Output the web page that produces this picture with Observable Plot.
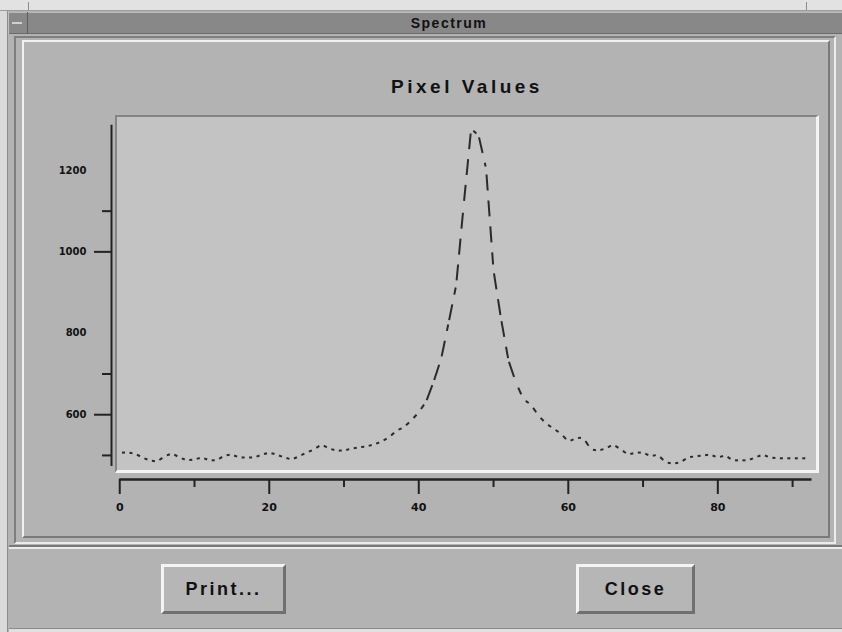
<!DOCTYPE html>
<html>
<head>
<meta charset="utf-8">
<script src="https://cdn.jsdelivr.net/npm/d3@7"></script>
<script src="https://cdn.jsdelivr.net/npm/@observablehq/plot@0.6"></script>
<style>
  html, body { margin: 0; padding: 0; background: #b3b3b3; }
  #win { position: relative; width: 842px; height: 632px; overflow: hidden; background: #b3b3b3;
         font-family: "Liberation Sans", "DejaVu Sans", sans-serif; }
  .abs { position: absolute; box-sizing: border-box; }
  .btn { position: absolute; box-sizing: border-box; background: #b6b6b6;
         border-top: 3px solid #f4f4f4; border-left: 3px solid #f4f4f4;
         border-bottom: 3px solid #707070; border-right: 3px solid #707070;
         display: flex; align-items: center; justify-content: center;
         font-size: 18px; font-weight: bold; letter-spacing: 2.5px; color: #111; }
  #chart { position: absolute; left: 0; top: 0; }
</style>
</head>
<body>
<div id="win">
  <!-- window decoration -->
  <div class="abs" style="left:0;top:0;width:842px;height:11px;background:#e2e2e2;border-bottom:1px solid #9c9c9c"></div>
  <div class="abs" style="left:28px;top:2px;width:1px;height:8px;background:#8c8c8c"></div>
  <div class="abs" style="left:806px;top:2px;width:1px;height:8px;background:#8c8c8c"></div>
  <div class="abs" style="left:0;top:11px;width:8px;height:621px;background:#dadada;border-right:1px solid #8c8c8c"></div>
  <div class="abs" style="left:8px;top:12px;width:834px;height:22px;background:#888888;border-top:1px solid #b8b8b8;border-bottom:1px solid #6a6a6a"></div>
  <div class="abs" style="left:8px;top:12px;width:20px;height:22px;border-right:1px solid #5c5c5c;border-left:1px solid #c0c0c0"></div>
  <div class="abs" style="left:12px;top:22px;width:10px;height:2px;background:#d0d0d0"></div>
  <div class="abs" style="left:0;top:12px;width:842px;height:22px;display:flex;align-items:center;justify-content:center;padding-left:56px;font-size:14px;font-weight:bold;letter-spacing:1.5px;color:#111">Spectrum</div>
  <!-- panels -->
  <div class="abs" style="left:14px;top:36px;width:822px;height:508px;border-top:2px solid #7e7e7e;border-left:2px solid #7e7e7e;border-bottom:2px solid #ececec;border-right:2px solid #ececec"></div>
  <div class="abs" style="left:22px;top:40px;width:808px;height:498px;border-top:2px solid #f2f2f2;border-left:2px solid #f2f2f2;border-bottom:2px solid #7a7a7a;border-right:2px solid #7a7a7a"></div>
  <div class="abs" style="left:9px;top:545px;width:833px;height:4px;border-top:2px solid #7a7a7a;border-bottom:2px solid #ececec"></div>
  <div class="abs" style="left:9px;top:628px;width:833px;height:4px;border-top:1px solid #8a8a8a;background:#e0e0e0"></div>
  <div class="abs" style="left:0;top:72px;width:842px;height:30px;display:flex;align-items:center;justify-content:center;padding-left:92px;font-size:19px;font-weight:bold;letter-spacing:3.5px;color:#111">Pixel Values</div>
  <!-- sunken plot box -->
  <div class="abs" style="left:115px;top:115px;width:704px;height:358px;background:#c3c3c3;border-top:2px solid #858585;border-left:2px solid #858585;border-right:3px solid #f4f4f4;border-bottom:3px solid #f4f4f4"></div>
  <!-- buttons -->
  <div class="btn" style="left:161px;top:564px;width:125px;height:50px">Print...</div>
  <div class="btn" style="left:576px;top:564px;width:119px;height:50px">Close</div>
  <div id="chart"></div>
</div>
<script>
// ---- data ----
const channel = [0,1,2,3,4,5,6,7,8,9,10,11,12,13,14,15,16,17,18,19,20,21,22,23,24,25,26,27,28,29,
  30,31,32,33,34,35,36,37,38,39,40,41,42,43,44,45,46,47,48,49,50,51,52,53,54,55,56,57,58,59,
  60,61,62,63,64,65,66,67,68,69,70,71,72,73,74,75,76,77,78,79,80,81,82,83,84,85,86,87,88,89,90,91,92];
const pixelValue = [507,507,505,495,488,485,498,505,495,488,490,495,488,488,500,502,495,495,495,502,
  507,502,495,490,498,507,515,527,517,512,512,517,520,522,527,534,544,561,569,586,
  606,633,682,738,827,918,1114,1302,1286,1205,954,836,733,679,638,625,598,579,566,554,
  534,542,544,515,512,517,527,515,502,507,507,498,502,483,480,483,495,498,500,502,
  495,500,488,488,488,495,502,495,493,493,493,493,493];
const xLabels = [0, 20, 40, 60, 80];
const xMajorTicks = [0, 20, 40, 60, 80];
const xMinorTicks = [10, 30, 50, 70, 90];
const yLabels = [600, 800, 1000, 1200];
const yMajorTicks = [600, 1000];
const yMinorTicks = [500, 700, 1100];

// ---- layout / style options ----
const width = 842, height = 632;
const margin = { left: 117, right: 26, top: 117, bottom: 162 };
const xDomain = [-0.3, 93.2];
const yDomain = [463, 1330];
const xAxisExtent = [0, 92.6];
const yAxisExtent = [473, 1311];
const ink = "#222";

// pixels per data unit (only used to choose how much of each segment is blank)
const kx = (width - margin.left - margin.right) / (xDomain[1] - xDomain[0]);
const ky = (height - margin.top - margin.bottom) / (yDomain[1] - yDomain[0]);

const shortSegs = [], longSegs = [];
for (let i = 0; i < channel.length - 1; i++) {
  const xa = channel[i], xb = channel[i + 1], ya = pixelValue[i], yb = pixelValue[i + 1];
  const len = Math.hypot((xb - xa) * kx, (yb - ya) * ky);
  const f = len > 20 ? 0.06 : 0.3;
  const seg = {
    x1: xa + f * (xb - xa), y1: ya + f * (yb - ya),
    x2: xb - f * (xb - xa), y2: yb - f * (yb - ya)
  };
  (len > 20 ? longSegs : shortSegs).push(seg);
}

const chart = Plot.plot({
  width, height,
  marginLeft: margin.left,
  marginRight: margin.right,
  marginTop: margin.top,
  marginBottom: margin.bottom,
  style: { background: "transparent", fontFamily: "'DejaVu Sans', sans-serif", overflow: "visible" },
  x: { domain: xDomain, axis: null },
  y: { domain: yDomain, axis: null },
  marks: [
    // data curve (dashed look of the original)
    Plot.link(shortSegs, { x1: "x1", y1: "y1", x2: "x2", y2: "y2", stroke: "#2a2a2a", strokeWidth: 2, strokeLinecap: "butt" }),
    Plot.link(longSegs, { x1: "x1", y1: "y1", x2: "x2", y2: "y2", stroke: "#2a2a2a", strokeWidth: 2, strokeDasharray: "16,10", strokeLinecap: "butt" }),
    // y axis
    Plot.ruleX([xDomain[0]], { y1: yAxisExtent[0], y2: yAxisExtent[1], dx: -6, stroke: ink, strokeWidth: 2 }),
    Plot.axisY({ ticks: yMajorTicks, tickSize: 17, dx: -6, tickFormat: () => "", stroke: ink, strokeWidth: 2, label: null }),
    Plot.axisY({ ticks: yMinorTicks, tickSize: 9, dx: -6, tickFormat: () => "", stroke: ink, strokeWidth: 2, label: null }),
    Plot.text(yLabels, { x: xDomain[0], y: d => d, text: d => String(d), dx: -31, textAnchor: "end", fontSize: 10, fontWeight: "bold", fill: "#111" }),
    // x axis
    Plot.ruleY([yDomain[0]], { x1: xAxisExtent[0], x2: xAxisExtent[1], dy: 9, stroke: ink, strokeWidth: 2.5 }),
    Plot.axisX({ ticks: xMajorTicks, tickSize: 15, dy: 9, tickFormat: () => "", stroke: ink, strokeWidth: 2, label: null }),
    Plot.axisX({ ticks: xMinorTicks, tickSize: 8, dy: 9, tickFormat: () => "", stroke: ink, strokeWidth: 2, label: null }),
    Plot.text(xLabels, { x: d => d, y: yDomain[0], text: d => String(d), dy: 37, fontSize: 11, fontWeight: "bold", fill: "#111" })
  ]
});
document.getElementById("chart").appendChild(chart);
</script>
</body>
</html>
